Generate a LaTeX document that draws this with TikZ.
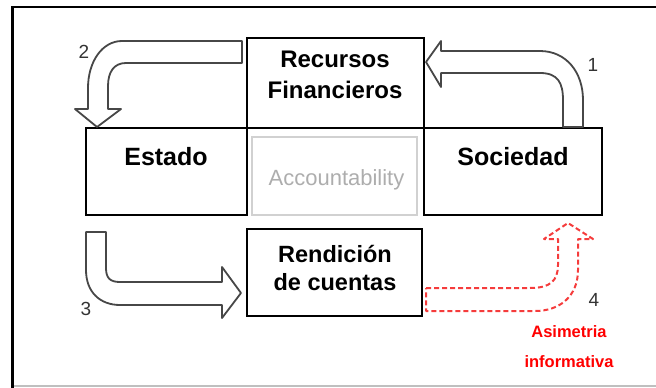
\documentclass[tikz,border=0pt]{standalone}
\usepackage{fontspec}
\setmainfont{Liberation Sans}
\begin{document}
\begin{tikzpicture}[x=1pt,y=-1pt,
  box/.style={draw=black,line width=1.5pt,fill=white,inner sep=0pt},
  gbox/.style={draw=black!18,line width=2pt,inner sep=0pt},
  big/.style={font=\bfseries\fontsize{24}{31}\selectfont,align=center,inner sep=0pt},
  num/.style={font=\fontsize{19}{20}\selectfont,text=black!80,inner sep=0pt},
  blockarrow/.style={draw=black!72,line width=1.8pt,fill=white,line join=round},
  redarrow/.style={draw={rgb,255:red,245;green,60;blue,60},line width=2pt,dash pattern=on 5pt off 3pt,line join=round},
  redtext/.style={font=\bfseries\fontsize{16.5}{18}\selectfont,text={rgb,255:red,255;green,0;blue,0},inner sep=0pt}]
\useasboundingbox (0,0) rectangle (656,388);
% frame
\draw[black!25,line width=2pt] (12,386) -- (656,386);
\draw[black,line width=2pt] (12,7) -- (656,7);
\draw[black,line width=3pt] (12,6) -- (12,388);
% boxes
\node[box,minimum width=177pt,minimum height=90pt] (rec) at (335.5,83) {};
\node[box,minimum width=161pt,minimum height=87pt] (est) at (166.5,171.5) {};
\node[box,minimum width=178pt,minimum height=87pt] (soc) at (513,171.5) {};
\node[gbox,minimum width=165pt,minimum height=78pt] (acc) at (334.5,176) {};
\node[box,minimum width=175pt,minimum height=87pt] (ren) at (334.5,272.5) {};
% texts
\node[big] (rect) at (335,75) {Recursos\\Financieros};
\node[big,font=\bfseries\fontsize{25}{30}\selectfont] (estt) at (166,157) {Estado};
\node[big,font=\bfseries\fontsize{25}{30}\selectfont] (soct) at (513,157) {Sociedad};
\node[font=\fontsize{22}{24}\selectfont,text=black!32,inner sep=0pt] (acct) at (336.5,180) {Accountability};
\node[big,font=\bfseries\fontsize{23.5}{28}\selectfont] (rent) at (335,268) {Rendición\\de cuentas};
% arrow 2
\draw[blockarrow] (242,41) -- (122,41) .. controls (102,41) and (88,62) .. (88,88) -- (88,109) -- (75,109) -- (97,127) -- (121,109) -- (108,109) -- (108,86) .. controls (108,72) and (114,63) .. (126,63) -- (242,63) -- cycle;
% arrow 1
\draw[blockarrow] (563,127) -- (563,100) .. controls (563,83) and (558,73) .. (540,73) -- (441,73) -- (441,87) -- (426,62) -- (441,41) -- (441,51) -- (540,51) .. controls (566,51) and (583,72) .. (583,100) -- (583,127) -- cycle;
% arrow 3
\draw[blockarrow] (86,232) -- (106,232) -- (106,268) .. controls (106,278) and (110,282) .. (120,282) -- (222,282) -- (222,267) -- (241,293) -- (222,318) -- (222,305) -- (120,305) .. controls (100,305) and (86,292) .. (86,270) -- cycle;
% arrow 4
\draw[redarrow] (426,288) -- (530,288) .. controls (550,288) and (558,281) .. (558,265) -- (558,239) -- (544,239) -- (568,223) -- (593,239) -- (578,239) -- (578,270) .. controls (578,296) and (560,311) .. (535,311) -- (426,311) -- cycle;
% numbers
\node[num] (n2) at (84,52) {2};
\node[num] (n1) at (593,65) {1};
\node[num] (n3) at (86,309) {3};
\node[num] (n4) at (594,300) {4};
% red text
\node[redtext] (asi) at (569,332) {Asimetria};
\node[redtext] (inf) at (569,362) {informativa};
\end{tikzpicture}
\end{document}
